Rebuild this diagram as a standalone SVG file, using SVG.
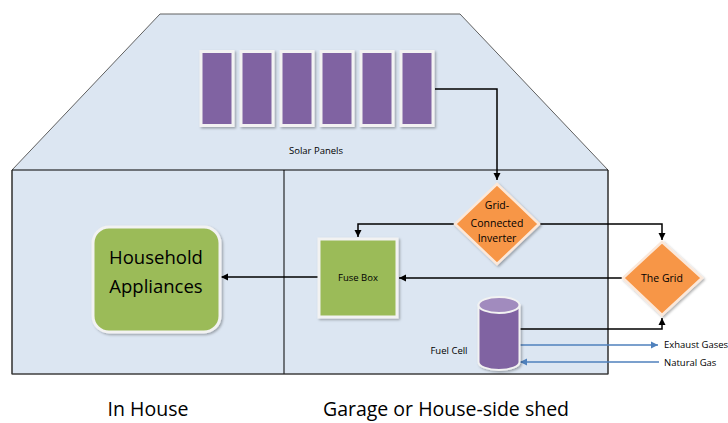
<svg xmlns="http://www.w3.org/2000/svg" width="728" height="423" viewBox="0 0 728 423">
<defs>
<marker id="ah" markerWidth="8" markerHeight="8" refX="7" refY="4" orient="auto" markerUnits="userSpaceOnUse"><path d="M0,0.5 L7,4 L0,7.5 z" fill="#000"/></marker>
<marker id="ahb" markerWidth="8" markerHeight="8" refX="7" refY="4" orient="auto" markerUnits="userSpaceOnUse"><path d="M0,0.5 L7,4 L0,7.5 z" fill="#4F81BD"/></marker>
<filter id="sh" x="-20%" y="-20%" width="140%" height="140%"><feDropShadow dx="1.5" dy="1.5" stdDeviation="1.2" flood-color="#000" flood-opacity="0.3"/></filter>
</defs>
<style>
text{font-family:"Open Sans","Liberation Sans",sans-serif;fill:#000}
.panel{fill:#8064A2;stroke:#F2F2F2;stroke-width:3;filter:url(#sh)}
.dia{fill:#F79646;stroke:#FBE8DA;stroke-width:2.5;filter:url(#sh)}
.green{fill:#9BBB59;stroke:#F2F2F2;stroke-width:3;filter:url(#sh)}
.con{fill:none;stroke:#000;stroke-width:1.5;marker-end:url(#ah)}
.blue{fill:none;stroke:#4F81BD;stroke-width:1.5;marker-end:url(#ahb)}
.s{font-size:9.5px}
.m{font-size:10.5px}
</style>
<g id="house">
<polygon points="12,170 160,14 460,14 608,170 608,374 12,374" fill="#DCE6F2" stroke="#606060" stroke-width="1"/>
<line x1="12" y1="170" x2="608" y2="170" stroke="#000" stroke-width="1.2"/>
<line x1="284" y1="170" x2="284" y2="374" stroke="#000" stroke-width="1"/>
<polyline points="12,170 12,374 608,374 608,170" fill="none" stroke="#303030" stroke-width="1.2"/>
</g>
<g id="solar-panels">
<rect class="panel" x="201" y="51.5" width="32" height="74"/>
<rect class="panel" x="241" y="51.5" width="32" height="74"/>
<rect class="panel" x="281" y="51.5" width="32" height="74"/>
<rect class="panel" x="321" y="51.5" width="32" height="74"/>
<rect class="panel" x="361" y="51.5" width="32" height="74"/>
<rect class="panel" x="401" y="51.5" width="32" height="74"/>
<text class="s" x="316" y="154" text-anchor="middle">Solar Panels</text>
</g>
<g id="connectors">
<polyline class="con" points="435,89 497,89 497,180"/>
<polyline class="con" points="455,224 358,224 358,237"/>
<polyline class="con" points="539,224 662,224 662,240"/>
<polyline class="con" points="622,278 399,278"/>
<polyline class="con" points="318,277 221,277"/>
<polyline class="con" points="519,329 662,329 662,318"/>
<polyline class="blue" points="519,345 658,345"/>
<polyline class="blue" points="659,362 520,362"/>
</g>
<g id="inverter">
<polygon class="dia" points="497,184 539,224 497,264 455,224"/>
<text class="m" x="497" y="209" text-anchor="middle">Grid-</text>
<text class="m" x="497" y="227" text-anchor="middle">Connected</text>
<text class="m" x="497" y="242" text-anchor="middle">Inverter</text>
</g>
<g id="the-grid">
<polygon class="dia" points="662,242 702,278 662,315 623,278"/>
<text class="m" x="662" y="282" text-anchor="middle">The Grid</text>
</g>
<g id="fuse-box">
<rect class="green" x="319" y="239" width="78" height="78"/>
<text class="s" x="358" y="281" text-anchor="middle">Fuse Box</text>
</g>
<g id="household">
<rect class="green" x="93" y="227" width="127" height="105" rx="16"/>
<text x="156" y="264" text-anchor="middle" font-size="18.5">Household</text>
<text x="156" y="293" text-anchor="middle" font-size="18.5">Appliances</text>
</g>
<g id="fuel-cell">
<path d="M478.5,305 L478.5,362 A20.5,8 0 0 0 519.5,362 L519.5,305 Z" fill="#8064A2" stroke="#F2F2F2" stroke-width="2" filter="url(#sh)"/>
<ellipse cx="499" cy="305" rx="20.5" ry="8" fill="#A18BBE" stroke="#F2F2F2" stroke-width="2"/>
<text class="s" x="449" y="354" text-anchor="middle">Fuel Cell</text>
</g>
<g id="gas-labels">
<text class="s" x="664" y="348">Exhaust Gases</text>
<text class="s" x="664" y="366">Natural Gas</text>
</g>
<g id="bottom-labels">
<text x="148" y="416" text-anchor="middle" font-size="19.5">In House</text>
<text x="446" y="416" text-anchor="middle" font-size="19.5">Garage or House-side shed</text>
</g>
</svg>
